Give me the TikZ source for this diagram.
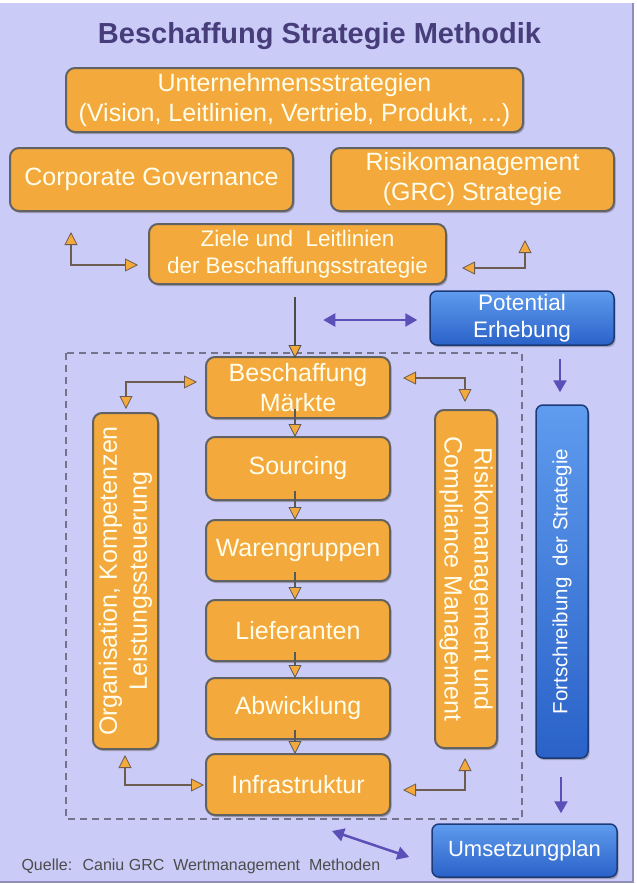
\documentclass[tikz,border=0pt]{standalone}
\usepackage{fontspec}
\setmainfont{Liberation Sans}
\usepackage{xcolor}
\usepackage{tikz}
\usetikzlibrary{arrows.meta}
\usetikzlibrary{calc}
\usetikzlibrary{shadows}
\definecolor{bg}{HTML}{CBCBF8}
\definecolor{bgline}{HTML}{8E8EB8}
\definecolor{boxorange}{HTML}{F4A93C}
\definecolor{boxline}{HTML}{626262}
\definecolor{titleblue}{HTML}{473D7B}
\definecolor{linkbrown}{HTML}{6E5C50}
\definecolor{flowblue}{HTML}{5A50B8}
\definecolor{bluetop}{HTML}{5F9BEE}
\definecolor{bluebot}{HTML}{2A62C8}
\definecolor{blueline}{HTML}{1D3A78}
\definecolor{cream}{HTML}{FFFDEB}
\newcommand\bigtxt{\fontsize{25}{30}\selectfont}
\newcommand\midtxt{\fontsize{22.5}{27}\selectfont}

\begin{document}
\begin{tikzpicture}[x=1pt,y=-1pt,
    box/.style={draw=boxline,line width=2pt,fill=boxorange,rounded corners=9pt,text=cream,inner sep=0pt,align=center,font=\bigtxt,
        drop shadow={shadow xshift=1.5pt,shadow yshift=-2pt,fill=black!60,opacity=0.45}},
    bluebox/.style={draw=blueline,line width=1.5pt,top color=bluetop,bottom color=bluebot,rounded corners=7pt,text=white,inner sep=0pt,align=center,font=\midtxt,
        drop shadow={shadow xshift=1.5pt,shadow yshift=-2pt,fill=black!60,opacity=0.45}},
    link/.style={draw=linkbrown,line width=1.8pt,>={Triangle[length=13pt,width=13pt,fill=boxorange,line width=0.8pt]}},
    flow/.style={draw=flowblue,line width=2.5pt,>={Triangle[length=12pt,width=13pt]}}]
            \useasboundingbox (0,0) rectangle (637,884);

            %%% BACKGROUND %%%
            \fill[white] (0,0) rectangle (637,884);
            \fill[bg] (0,3) rectangle (633,882);
            \draw[bgline,line width=2pt] (633,3) -- (633,882) -- (0,882);
            \draw[gray!90!blue,line width=1.5pt,dash pattern=on 7pt off 5pt] (66,353) rectangle (522,819);

            %%% TITLE %%%
            \node[anchor=base,text=titleblue,font=\fontsize{29}{34}\selectfont\bfseries] (title) at (319.5,43) {Beschaffung Strategie Methodik};

            %%% STRATEGY BOXES %%%
            \node[box,minimum width=457,minimum height=64] (us) at (294.5,100) {Unternehmensstrategien\\(Vision, Leitlinien, Vertrieb, Produkt, ...)};
            \node[box,minimum width=283,minimum height=63] (cg) at (151.5,179.5) {Corporate Governance};
            \node[box,minimum width=283,minimum height=63] (rm) at (472.5,179.5) {Risikomanagement\\(GRC) Strategie};
            \node[box,font=\midtxt,minimum width=297,minimum height=60] (zl) at (297.5,254) {Ziele und~ Leitlinien\\der Beschaffungsstrategie};
            \node[bluebox,minimum width=184,minimum height=54] (pe) at (522,318) {Potential\\Erhebung};

            %%% METHOD BOXES %%%
            \node[box,minimum width=184,minimum height=61] (bm) at (298,387.5) {Beschaffung\\M\"arkte};
            \node[box,minimum width=184,minimum height=63] (so) at (298,468.5) {Sourcing};
            \node[box,minimum width=184,minimum height=61] (wg) at (298,550.5) {Warengruppen};
            \node[box,minimum width=184,minimum height=61] (li) at (298,630.5) {Lieferanten};
            \node[box,minimum width=184,minimum height=61] (ab) at (298,708.5) {Abwicklung};
            \node[box,minimum width=184,minimum height=61] (in) at (298,784.5) {Infrastruktur};
            \node[box,rotate=90,minimum width=336,minimum height=65] (org) at (125.5,581) {Organisation, Kompetenzen\\Leistungssteuerung};
            \node[box,rotate=-90,minimum width=338,minimum height=62] (rcm) at (466,579) {Risikomanagement und\\Compliance Management};

            %%% PLAN BOXES %%%
            \node[bluebox,rotate=90,font=\fontsize{20.5}{24}\selectfont,minimum width=353,minimum height=52] (fs) at (562,581.5) {Fortschreibung~ der Strategie};
            \node[bluebox,font=\fontsize{22}{26}\selectfont,minimum width=185,minimum height=53] (up) at (524.5,850.5) {Umsetzungplan};

            %%% LINKS %%%
            \coordinate (cgA) at (71,232);
            \coordinate (rmA) at (525,240);
            \draw[link,<->] (cgA) |- ($(zl.west)+(-10,11)$);
            \draw[link,<->] (rmA) |- ($(zl.east)+(15,14)$);
            \draw[link,draw=black!70,->] ($(zl.south)+(-2.5,12)$) -- ($(bm.north)+(-3,2)$);
            \draw[link,<->] ($(bm.west)+(-8,-5.5)$) -| ($(org.east)+(0.5,-3)$);
            \draw[link,<->] ($(org.west)+(-0.5,5)$) |- ($(in.west)+(-1,0.5)$);
            \draw[link,<->] ($(bm.east)+(12,-9.5)$) -| ($(rcm.west)+(-1,-7)$);
            \draw[link,<->] ($(in.east)+(12,5.5)$) -| ($(rcm.east)+(-1,9)$);
            \foreach \a/\b in {bm/so,so/wg,wg/li,li/ab,ab/in}
                \draw[link,draw=black!65,->] ($(\a.south)+(-3,-10)$) -- ($(\b.north)+(-3,1)$);

            %%% FLOW %%%
            \draw[flow,<->] ($(pe.west)+(-106,2)$) -- ($(pe.west)+(-12,2)$);
            \draw[flow,->] ($(pe.south)+(38,13)$) -- ($(fs.east)+(-2,-12)$);
            \draw[flow,->] ($(fs.west)+(-1,18)$) -- ($(up.north)+(36.5,-10)$);
            \draw[flow,<->] ($(in.south)+(34,15)$) -- ($(up.west)+(-22,6.5)$);

            %%% SOURCE %%%
            \node[anchor=base west,text=black!70,font=\fontsize{16}{19}\selectfont] (src) at (18,870) {Quelle:~ Caniu GRC~ Wertmanagement~ Methoden};
        \end{tikzpicture}
\end{document}
